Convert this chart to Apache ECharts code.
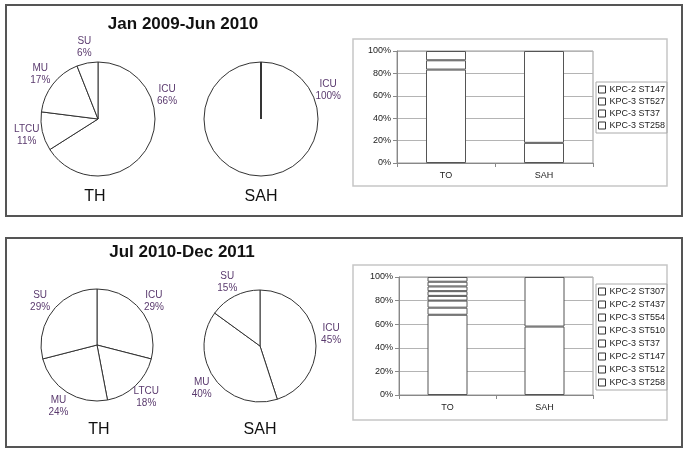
<!DOCTYPE html>
<html>
<head>
<meta charset="utf-8">
<script src="https://cdn.jsdelivr.net/npm/echarts@6/dist/echarts.min.js"></script>
<style>
  html, body { margin: 0; padding: 0; background: #fff; }
  #chart { width: 685px; height: 454px; }
</style>
</head>
<body>
<div id="chart"></div>
<script>
//--------------------Data--------------------
let ward_names = ["ICU", "LTCU", "MU", "SU"];
let th_2009_values = [66, 11, 17, 6];
let sah_2009_values = [100, 0, 0, 0];
let th_2010_values = [29, 18, 24, 29];
let sah_2010_names = ["ICU", "MU", "SU"];
let sah_2010_values = [45, 40, 15];

let hospital_categories = ["TO", "SAH"];
let top_strain_names = ["KPC-3 ST258", "KPC-3 ST37", "KPC-3 ST527", "KPC-2 ST147"];
let top_strain_values = [
    [83.4, 18],   // KPC-3 ST258
    [8.3, 0],     // KPC-3 ST37
    [8.3, 0],     // KPC-3 ST527
    [0, 82]       // KPC-2 ST147
];
let bottom_strain_names = ["KPC-3 ST258", "KPC-3 ST512", "KPC-2 ST147", "KPC-3 ST37",
    "KPC-3 ST510", "KPC-3 ST554", "KPC-2 ST437", "KPC-2 ST307"];
let bottom_strain_values = [
    [68, 58],
    [6, 42],
    [6, 0],
    [4, 0],
    [4, 0],
    [4, 0],
    [4, 0],
    [4, 0]
];
let percent_ticks = [0, 20, 40, 60, 80, 100];

//--------------------Init--------------------
let chart_dom = document.getElementById("chart");
let chart = echarts.init(chart_dom, null, {renderer: "canvas"});
let font_family = "'Liberation Sans', Arial, sans-serif";
let label_color = "#5a3a6e";

//--------------------Pie helpers--------------------
// put each label on a ring just outside the pie, centred on the slice (or on a fixed angle)
function pie_label_layout(center, radius, values, gap, angle_override) {
    let total = values.reduce(function (a, b) { return a + b; }, 0);
    return function (params) {
        let i = params.dataIndex;
        let before = 0;
        for (let k = 0; k < i; k++) before += values[k];
        let ang = (before + values[i] / 2) / total * 360;
        if (angle_override && angle_override[i] != null) ang = angle_override[i];
        let rad = ang * Math.PI / 180;
        let d = radius + gap;
        return {
            x: center[0] + d * Math.sin(rad),
            y: center[1] - d * Math.cos(rad),
            align: "center",
            verticalAlign: "middle"
        };
    };
}

function pie_series(names, values, center, radius, angle_override) {
    return {
        type: "pie",
        center: center,
        radius: radius,
        startAngle: 90,
        clockwise: true,
        avoidLabelOverlap: false,
        silent: true,
        itemStyle: {color: "#fff", borderColor: "#333", borderWidth: 1},
        label: {
            show: true,
            position: "outside",
            formatter: "{b}\n{c}%",
            color: label_color,
            fontSize: 10,
            lineHeight: 12,
            fontFamily: font_family
        },
        labelLine: {show: false},
        labelLayout: pie_label_layout(center, radius, values, 16, angle_override),
        data: names.map(function (n, i) {
            let item = {name: n, value: values[i]};
            if (values[i] === 0) item.label = {show: false};
            return item;
        })
    };
}

//--------------------Bar helpers--------------------
function bar_series(names, values, axis_index, stack) {
    return names.map(function (n, i) {
        return {
            type: "bar",
            name: n,
            stack: stack,
            xAxisIndex: axis_index,
            yAxisIndex: axis_index,
            barWidth: 40,
            silent: true,
            itemStyle: {color: "#fff", borderColor: "#555", borderWidth: 1},
            // empty segments are left out so they don't draw a stray edge
            data: values[i].map(function (v) { return v === 0 ? "-" : v; })
        };
    });
}

function category_axis(grid_index) {
    return {
        type: "category",
        gridIndex: grid_index,
        data: hospital_categories,
        axisLine: {lineStyle: {color: "#888"}},
        axisTick: {show: true, length: 4, lineStyle: {color: "#888"}},
        axisLabel: {color: "#222", fontSize: 9, margin: 8, fontFamily: font_family}
    };
}

function percent_axis(grid_index) {
    return {
        type: "value",
        gridIndex: grid_index,
        min: percent_ticks[0],
        max: percent_ticks[percent_ticks.length - 1],
        interval: percent_ticks[1] - percent_ticks[0],
        axisLine: {show: true, lineStyle: {color: "#888"}},
        axisTick: {show: true, length: 4, lineStyle: {color: "#888"}},
        axisLabel: {color: "#222", fontSize: 9, margin: 6, formatter: "{value}%", fontFamily: font_family},
        splitLine: {show: true, lineStyle: {color: "#b4b4b4", width: 1}}
    };
}

function legend_box(names, top, gap) {
    return {
        orient: "vertical",
        left: 596,
        top: top,
        data: names.slice().reverse(),
        icon: "rect",
        itemWidth: 7,
        itemHeight: 7,
        itemGap: gap,
        padding: [3, 2, 3, 2],
        borderColor: "#aaa",
        borderWidth: 1,
        selectedMode: false,
        itemStyle: {color: "#fff", borderColor: "#333", borderWidth: 1},
        textStyle: {color: "#222", fontSize: 9, padding: [0, 0, 0, -1], fontFamily: font_family}
    };
}

//--------------------Frames--------------------
let frame_graphics = [
    {type: "rect", shape: {x: 6, y: 5, width: 676, height: 211}, style: {fill: "none", stroke: "#555", lineWidth: 2}, silent: true},
    {type: "rect", shape: {x: 6, y: 238, width: 676, height: 209}, style: {fill: "none", stroke: "#555", lineWidth: 2}, silent: true},
    {type: "rect", shape: {x: 353, y: 39, width: 314, height: 147}, style: {fill: "none", stroke: "#c6c6c6", lineWidth: 1.5}, silent: true},
    {type: "rect", shape: {x: 353, y: 265, width: 314, height: 155}, style: {fill: "none", stroke: "#c6c6c6", lineWidth: 1.5}, silent: true}
];

function caption(text, x, y, size, weight) {
    return {
        text: text,
        left: x,
        top: y,
        textAlign: "center",
        padding: 0,
        textStyle: {fontSize: size, fontWeight: weight, color: "#111", fontFamily: font_family}
    };
}

//------------------Generate Graph------------------
let option = {
    backgroundColor: "#fff",
    animation: false,
    title: [
        caption("Jan 2009-Jun 2010", 183, 16, 17, "bold"),
        caption("Jul 2010-Dec 2011", 182, 244, 17, "bold"),
        caption("TH", 95, 189, 16, "normal"),
        caption("SAH", 261, 189, 16, "normal"),
        caption("TH", 99, 422, 16, "normal"),
        caption("SAH", 260, 422, 16, "normal")
    ],
    graphic: frame_graphics,
    grid: [
        {left: 397, top: 51, width: 196, height: 112, show: true, backgroundColor: "#fff", borderColor: "#999", borderWidth: 1},
        {left: 399, top: 277, width: 194, height: 118, show: true, backgroundColor: "#fff", borderColor: "#999", borderWidth: 1}
    ],
    xAxis: [category_axis(0), category_axis(1)],
    yAxis: [percent_axis(0), percent_axis(1)],
    legend: [
        legend_box(top_strain_names, 82, 3),
        legend_box(bottom_strain_names, 284, 4)
    ],
    series: [
        pie_series(ward_names, th_2009_values, [98, 119], 57, [71, null, null, null]),
        pie_series(ward_names, sah_2009_values, [261, 119], 57, [67, null, null, null]),
        pie_series(ward_names, th_2010_values, [97, 345], 56, null),
        pie_series(sah_2010_names, sah_2010_values, [260, 346], 56, null)
    ].concat(bar_series(top_strain_names, top_strain_values, 0, "top"))
     .concat(bar_series(bottom_strain_names, bottom_strain_values, 1, "bottom"))
};
if (option && typeof option === "object") {
    chart.setOption(option, true);
}
</script>
</body>
</html>
